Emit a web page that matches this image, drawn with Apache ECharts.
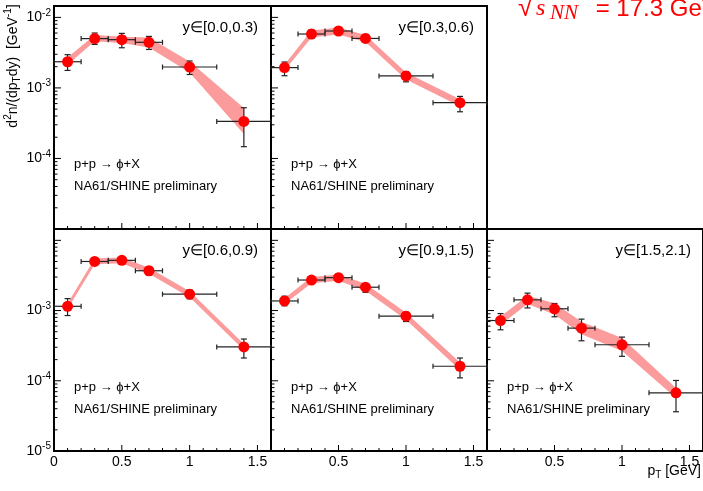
<!DOCTYPE html>
<html><head><meta charset="utf-8">
<script src="https://cdn.jsdelivr.net/npm/echarts@6/dist/echarts.min.js"></script>
<style>html,body{margin:0;padding:0;background:#fff}#c{width:703px;height:491px}</style>
</head><body><div id="c"></div>
<script>
// ---- data ----
const pt   = [0.1, 0.3, 0.5, 0.7, 1.0, 1.4];
const ptLo = [0.0, 0.2, 0.4, 0.6, 0.8, 1.2];
const ptHi = [0.2, 0.4, 0.6, 0.8, 1.2, 1.6];
const rapidityLabels = ['y∈[0.0,0.3)', 'y∈[0.3,0.6)', 'y∈[0.6,0.9)', 'y∈[0.9,1.5)', 'y∈[1.5,2.1)'];
const yTickExponents = [-5, -4, -3, -2];
const xTickLabels = ['0', '0.5', '1', '1.5'];

const y00_val   = [2.35e-3, 5.0e-3, 4.83e-3, 4.43e-3, 1.98e-3, 3.35e-4];
const y00_errLo = [1.77e-3, 4.14e-3, 3.71e-3, 3.51e-3, 1.55e-3, 1.47e-4];
const y00_errHi = [2.96e-3, 6.0e-3, 5.93e-3, 5.37e-3, 2.41e-3, 5.24e-4];
const y00_sysLo = [2.13e-3, 4.57e-3, 4.34e-3, 3.75e-3, 1.66e-3, 2.22e-4];
const y00_sysHi = [2.71e-3, 5.62e-3, 5.32e-3, 5.2e-3, 2.36e-3, 5.19e-4];

const y03_val   = [1.94e-3, 5.81e-3, 6.41e-3, 5.03e-3, 1.48e-3, 6.17e-4];
const y03_errLo = [1.49e-3, 5.03e-3, 5.81e-3, 4.52e-3, 1.22e-3, 4.59e-4];
const y03_errHi = [2.33e-3, 6.69e-3, 7.08e-3, 5.74e-3, 1.70e-3, 7.58e-4];
const y03_sysLo = [1.76e-3, 5.19e-3, 5.72e-3, 4.49e-3, 1.32e-3, 5.5e-4];
const y03_sysHi = [2.13e-3, 6.5e-3, 7.18e-3, 5.63e-3, 1.66e-3, 6.9e-4];

const y06_val   = [1.15e-3, 5.0e-3, 5.19e-3, 3.69e-3, 1.71e-3, 3.03e-4];
const y06_errLo = [8.49e-4, 4.55e-3, 4.59e-3, 3.2e-3, 1.47e-3, 2.11e-4];
const y06_errHi = [1.48e-3, 5.53e-3, 5.65e-3, 4.21e-3, 1.97e-3, 3.93e-4];
const y06_sysLo = [1.05e-3, 4.55e-3, 4.72e-3, 3.35e-3, 1.55e-3, 2.75e-4];
const y06_sysHi = [1.26e-3, 5.5e-3, 5.7e-3, 4.06e-3, 1.88e-3, 3.33e-4];

const y09_val   = [1.37e-3, 2.72e-3, 2.94e-3, 2.15e-3, 8.32e-4, 1.61e-4];
const y09_errLo = [1.17e-3, 2.45e-3, 2.7e-3, 1.82e-3, 6.98e-4, 1.1e-4];
const y09_errHi = [1.6e-3, 3.03e-3, 3.24e-3, 2.39e-3, 9.49e-4, 2.11e-4];
const y09_sysLo = [1.24e-3, 2.45e-3, 2.65e-3, 1.92e-3, 7.4e-4, 1.42e-4];
const y09_sysHi = [1.5e-3, 3.0e-3, 3.25e-3, 2.4e-3, 9.3e-4, 1.82e-4];

const y15_val   = [7.21e-4, 1.42e-3, 1.06e-3, 5.62e-4, 3.26e-4, 6.73e-5];
const y15_errLo = [5.32e-4, 1.09e-3, 8.15e-4, 3.71e-4, 2.23e-4, 3.62e-5];
const y15_errHi = [9.06e-4, 1.77e-3, 1.26e-3, 7.55e-4, 4.19e-4, 1.01e-4];
const y15_sysLo = [6.3e-4, 1.24e-3, 8.8e-4, 4.6e-4, 2.65e-4, 5.7e-5];
const y15_sysHi = [8.2e-4, 1.63e-3, 1.27e-3, 6.9e-4, 4.05e-4, 7.9e-5];

// ---- layout ----
const FONT = "'Liberation Sans', Arial, Helvetica, sans-serif";
const SERIF = "'Liberation Serif', 'Times New Roman', serif";
const panels = [
  {left: 54,  top: 6,   w: 217, h: 223, row: 0, col: 0, val: y00_val, eLo: y00_errLo, eHi: y00_errHi, sLo: y00_sysLo, sHi: y00_sysHi},
  {left: 271, top: 6,   w: 216, h: 223, row: 0, col: 1, val: y03_val, eLo: y03_errLo, eHi: y03_errHi, sLo: y03_sysLo, sHi: y03_sysHi},
  {left: 54,  top: 229, w: 217, h: 222, row: 1, col: 0, val: y06_val, eLo: y06_errLo, eHi: y06_errHi, sLo: y06_sysLo, sHi: y06_sysHi},
  {left: 271, top: 229, w: 216, h: 222, row: 1, col: 1, val: y09_val, eLo: y09_errLo, eHi: y09_errHi, sLo: y09_sysLo, sHi: y09_sysHi},
  {left: 487, top: 229, w: 217, h: 222, row: 1, col: 2, val: y15_val, eLo: y15_errLo, eHi: y15_errHi, sLo: y15_sysLo, sHi: y15_sysHi}
];
const YMIN = 1e-5, YMAX = 0.0145, XMIN = 0, XMAX = 1.6;

const grid = [], xAxis = [], yAxis = [], series = [], graphic = [];

panels.forEach((p, i) => {
  grid.push({left: p.left, top: p.top, width: p.w, height: p.h, show: true,
    borderColor: '#000', borderWidth: 2, backgroundColor: 'transparent', containLabel: false});
  xAxis.push({type: 'value', gridIndex: i, min: XMIN, max: XMAX, interval: 0.5,
    axisLine: {show: false}, axisTick: {show: false}, splitLine: {show: false},
    axisLabel: {show: p.row === 1, color: '#000', fontSize: 14, fontFamily: FONT, margin: 4,
      showMaxLabel: false, showMinLabel: p.col === 0,
      formatter: v => {
        const k = Math.round(v * 2);
        if (Math.abs(v * 2 - k) > 1e-6 || k > 3) return '';
        return xTickLabels[k];
      }}});
  yAxis.push({type: 'log', logBase: 10, gridIndex: i, min: YMIN, max: YMAX,
    axisLine: {show: false}, axisTick: {show: false}, splitLine: {show: false},
    axisLabel: {show: p.col === 0, color: '#000', margin: 3,
      formatter: v => {
        const e = Math.log10(v), r = Math.round(e);
        if (Math.abs(e - r) > 1e-6) return '';
        if (yTickExponents.indexOf(r) < 0) return '';
        if (p.row === 0 && r === -5) return '';
        if (p.row === 1 && r === -2) return '';
        return '{b|10}{s|' + r + '}';
      },
      rich: {
        b: {fontSize: 14, fontFamily: FONT, color: '#000'},
        s: {fontSize: 10, fontFamily: FONT, color: '#000', padding: [0, 0, 9, 0]}
      }}});

  // systematic band
  series.push({type: 'custom', xAxisIndex: i, yAxisIndex: i, z: 1, silent: true,
    data: [[pt[0], p.val[0]]],
    renderItem: (params, api) => {
      const up = pt.map((x, k) => api.coord([x, p.sHi[k]]));
      const dn = pt.map((x, k) => api.coord([x, p.sLo[k]])).reverse();
      return {type: 'polygon', shape: {points: up.concat(dn)}, style: {fill: '#fb9b9b', stroke: null}};
    }});
  // error bars
  series.push({type: 'custom', xAxisIndex: i, yAxisIndex: i, z: 2, silent: true,
    encode: {x: 0, y: 1},
    data: pt.map((x, k) => [x, p.val[k], ptLo[k], ptHi[k], p.eLo[k], p.eHi[k]]),
    renderItem: (params, api) => {
      const x = api.value(0), y = api.value(1);
      const l = api.coord([api.value(2), y]), r = api.coord([api.value(3), y]);
      const lo = api.coord([x, api.value(4)]), hi = api.coord([x, api.value(5)]);
      const st = {stroke: '#222', lineWidth: 1.2};
      const c = 2.5, cw = 3;
      return {type: 'group', children: [
        {type: 'line', shape: {x1: l[0], y1: l[1], x2: r[0], y2: r[1]}, style: st},
        {type: 'line', shape: {x1: l[0], y1: l[1] - c, x2: l[0], y2: l[1] + c}, style: st},
        {type: 'line', shape: {x1: r[0], y1: r[1] - c, x2: r[0], y2: r[1] + c}, style: st},
        {type: 'line', shape: {x1: lo[0], y1: lo[1], x2: hi[0], y2: hi[1]}, style: st},
        {type: 'line', shape: {x1: lo[0] - cw, y1: lo[1], x2: lo[0] + cw, y2: lo[1]}, style: st},
        {type: 'line', shape: {x1: hi[0] - cw, y1: hi[1], x2: hi[0] + cw, y2: hi[1]}, style: st}
      ]};
    }});
  // markers
  series.push({type: 'scatter', xAxisIndex: i, yAxisIndex: i, z: 3, silent: true,
    symbol: 'circle', symbolSize: 11, itemStyle: {color: '#ff0000', opacity: 1},
    data: pt.map((x, k) => [x, p.val[k]])});
  // frame ticks (inside)
  series.push({type: 'custom', xAxisIndex: i, yAxisIndex: i, z: 4, silent: true,
    data: [[0.8, 1e-3]],
    renderItem: (params, api) => {
      const ch = [];
      const st = {stroke: '#000', lineWidth: 1};
      for (let d = -5; d <= -2; d++) {
        for (let m = 1; m <= 9; m++) {
          const v = m * Math.pow(10, d);
          if (v < YMIN * 0.999 || v > YMAX) continue;
          const q = api.coord([XMIN, v]);
          const len = m === 1 ? 7 : 3.5;
          ch.push({type: 'line', shape: {x1: q[0], y1: q[1], x2: q[0] + len, y2: q[1]}, style: st});
        }
      }
      for (let k = 0; k <= 16; k++) {
        const v = k / 10;
        const q = api.coord([v, YMIN]);
        const len = k % 5 === 0 ? 6 : 3;
        ch.push({type: 'line', shape: {x1: q[0], y1: q[1], x2: q[0], y2: q[1] - len}, style: st});
      }
      return {type: 'group', children: ch};
    }});

  // panel texts
  graphic.push({type: 'text', silent: true, style: {text: rapidityLabels[i], x: p.left + p.w - 13, y: p.top + 22,
    align: 'right', textAlign: 'right', verticalAlign: 'middle', textVerticalAlign: 'middle',
    font: '15px ' + FONT, fill: '#000'}});
  graphic.push({type: 'text', silent: true, style: {text: 'p+p → ϕ+X', x: p.left + 20, y: p.top + 158,
    align: 'left', textAlign: 'left', verticalAlign: 'middle', textVerticalAlign: 'middle',
    font: '13px ' + FONT, fill: '#000'}});
  graphic.push({type: 'text', silent: true, style: {text: 'NA61/SHINE preliminary', x: p.left + 20, y: p.top + 180.5,
    align: 'left', textAlign: 'left', verticalAlign: 'middle', textVerticalAlign: 'middle',
    font: '13px ' + FONT, fill: '#000'}});
});

// axis titles
graphic.push({type: 'text', silent: true, x: 13, y: 66, rotation: Math.PI / 2,
  style: {text: '{m|d}{sup|2}{m|n/(dp}{sub|T}{m|dy)  [GeV}{sup|-1}{m|]}', x: 0, y: 0,
    align: 'center', textAlign: 'center', verticalAlign: 'middle', textVerticalAlign: 'middle',
    rich: {
      m: {fontSize: 14, fontFamily: FONT, fill: '#000', color: '#000'},
      sup: {fontSize: 10, fontFamily: FONT, fill: '#000', color: '#000', padding: [0, 0, 9, 0]},
      sub: {fontSize: 10, fontFamily: FONT, fill: '#000', color: '#000', padding: [8, 0, 0, 0]}
    }}});
graphic.push({type: 'text', silent: true,
  style: {text: '{m|p}{sub|T}{m| [GeV]}', x: 701, y: 471,
    align: 'right', textAlign: 'right', verticalAlign: 'middle', textVerticalAlign: 'middle',
    rich: {
      m: {fontSize: 14, fontFamily: FONT, fill: '#000', color: '#000'},
      sub: {fontSize: 10, fontFamily: FONT, fill: '#000', color: '#000', padding: [8, 0, 0, 0]}
    }}});
// energy title
graphic.push({type: 'text', silent: true,
  style: {text: '{r|√}{i|s}{sub|NN}{n| = 17.3 GeV}', x: 518, y: 9,
    align: 'left', textAlign: 'left', verticalAlign: 'middle', textVerticalAlign: 'middle',
    rich: {
      r: {fontSize: 27, fontFamily: FONT, fill: '#ff0000', color: '#ff0000', width: 18},
      i: {fontSize: 24, fontFamily: SERIF, fontStyle: 'italic', fill: '#ff0000', color: '#ff0000', width: 12},
      sub: {fontSize: 21, fontFamily: SERIF, fontStyle: 'italic', fill: '#ff0000', color: '#ff0000', padding: [9, 11, 0, 2]},
      n: {fontSize: 24, fontFamily: FONT, fill: '#ff0000', color: '#ff0000'}
    }}});

const chart = echarts.init(document.getElementById('c'), null, {renderer: 'canvas'});
chart.setOption({animation: false, backgroundColor: '#fff', grid, xAxis, yAxis, series, graphic});
</script></body></html>
